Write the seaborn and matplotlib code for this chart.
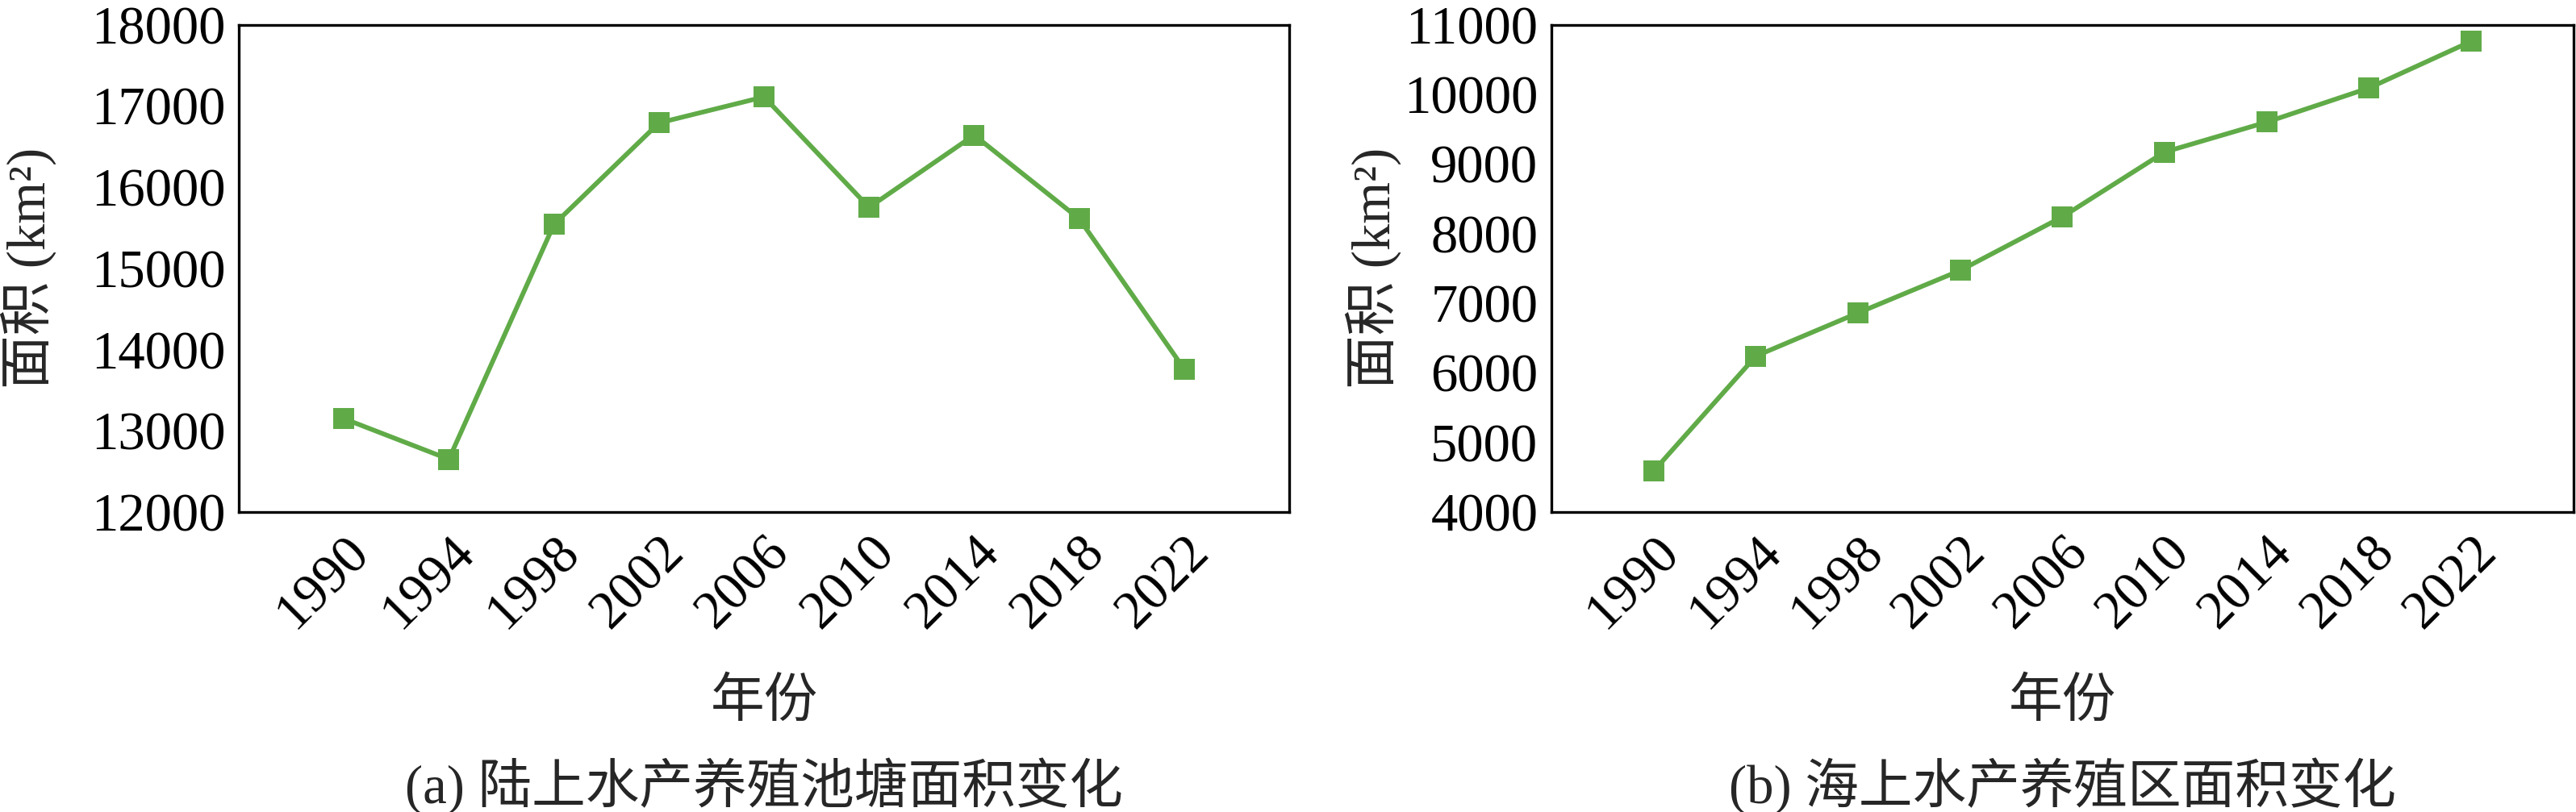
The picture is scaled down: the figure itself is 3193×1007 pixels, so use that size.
import numpy as np
import pandas as pd
import matplotlib
matplotlib.use('Agg')
import matplotlib.pyplot as plt
import seaborn as sns

# Values
years = [1990, 1994, 1998, 2002, 2006, 2010, 2014, 2018, 2022]
land_pond_area = [13150, 12650, 15540, 16790, 17110, 15750, 16640, 15610, 13760]
sea_farm_area = [4590, 6240, 6860, 7470, 8240, 9170, 9600, 10090, 10760]

y_label = '面积 (km²)'
x_label = '年份'
captions = ['(a) 陆上水产养殖池塘面积变化', '(b) 海上水产养殖区面积变化']
y_limits = [(12000, 18000), (4000, 11000)]
y_steps = [1000, 1000]

sns.set_style('white')
plt.rcParams['font.family'] = ['Liberation Serif', 'Noto Sans CJK SC', 'DejaVu Sans']
plt.rcParams['font.size'] = 48
plt.rcParams['axes.unicode_minus'] = False

line_color = '#60AB48'
fs = 48

fig = plt.figure(figsize=(31.93, 10.07), dpi=100)
ax_a = fig.add_axes([0.0927, 0.3694, 0.4078, 0.6003])
ax_b = fig.add_axes([0.6023, 0.3694, 0.3967, 0.6003])

panels = [
    (ax_a, land_pond_area, -0.200),
    (ax_b, sea_farm_area, -0.1744),
]

for i, (ax, values, ylab_x) in enumerate(panels):
    df = pd.DataFrame({'year': years, 'area': values})
    sns.lineplot(data=df, x='year', y='area', ax=ax, color=line_color,
                 marker='s', markersize=19, markeredgewidth=0,
                 linewidth=4.2)

    ax.set_xlim(years[0] - 4, years[-1] + 4)
    lo, hi = y_limits[i]
    ax.set_ylim(lo, hi)
    ax.set_yticks(np.arange(lo, hi + 1, y_steps[i]))
    ax.set_xticks(years)
    ax.set_xticklabels([str(y) for y in years], rotation=45,
                       ha='right', rotation_mode='anchor')

    ax.tick_params(axis='both', direction='in', length=16, width=2.2,
                   labelsize=fs, colors='black', top=False, right=False)
    ax.tick_params(axis='y', pad=12)
    ax.tick_params(axis='x', pad=14)

    for sp in ax.spines.values():
        sp.set_visible(True)
        sp.set_color('black')
        sp.set_linewidth(2.4)

    ax.set_ylabel(y_label, fontsize=fs, va='center')
    ax.yaxis.set_label_coords(ylab_x, 0.5)
    ax.set_xlabel(x_label, fontsize=fs, va='center')
    ax.xaxis.set_label_coords(0.5, -0.392)

    ax.text(0.5, -0.563, captions[i], transform=ax.transAxes,
            ha='center', va='center', fontsize=fs)

fig.savefig('out.png', dpi=100)
